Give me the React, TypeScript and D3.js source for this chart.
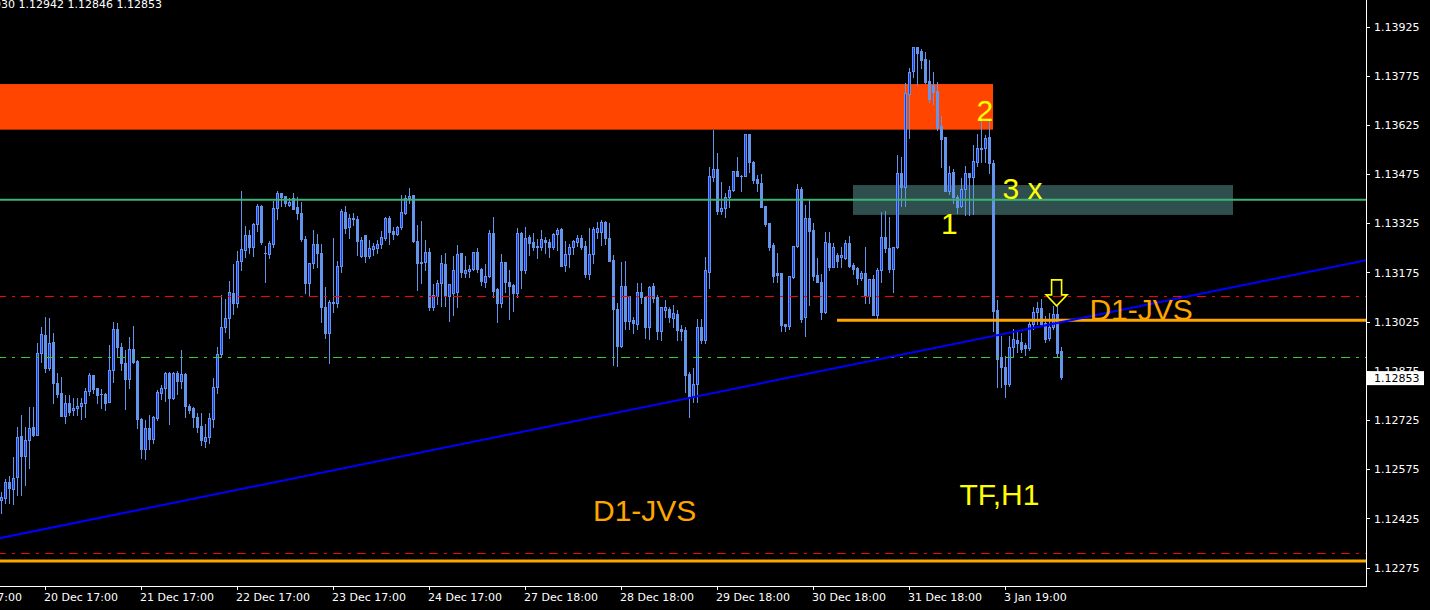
import React, { useEffect } from 'react';
import * as d3 from 'd3';

const W = 1430;
const H = 610;

const opens = [1.12477,1.12484,1.12533,1.12510,1.12546,1.12672,1.12612,1.12660,1.12698,1.12676,
1.12926,1.12981,1.12879,1.12958,1.12833,1.12802,1.12734,1.12772,1.12752,1.12756,
1.12763,1.12772,1.12809,1.12857,1.12817,1.12799,1.12799,1.12776,1.12873,1.12997,
1.12944,1.12895,1.12847,1.12936,1.12902,1.12723,1.12633,1.12697,1.12664,1.12726,
1.12804,1.12817,1.12863,1.12787,1.12865,1.12840,1.12861,1.12763,1.12756,1.12731,
1.12702,1.12658,1.12668,1.12723,1.12822,1.12921,1.13003,1.13033,1.13107,1.13078,
1.13206,1.13239,1.13284,1.13249,1.13317,1.13373,1.13231,1.13226,1.13256,1.13366,
1.13412,1.13404,1.13377,1.13397,1.13369,1.13351,1.13274,1.13137,1.13198,1.13256,
1.13229,1.13064,1.12985,1.13080,1.13078,1.13191,1.13356,1.13308,1.13336,1.13334,
1.13221,1.13285,1.13222,1.13243,1.13246,1.13257,1.13277,1.13336,1.13297,1.13288,
1.13308,1.13353,1.13397,1.13407,1.13267,1.13201,1.13203,1.13234,1.13064,1.13100,
1.13137,1.13196,1.13099,1.13109,1.13112,1.13229,1.13170,1.13176,1.13182,1.13232,
1.13182,1.13142,1.13160,1.13290,1.13120,1.13078,1.13201,1.13142,1.13132,1.13109,
1.13290,1.13178,1.13278,1.13264,1.13251,1.13247,1.13269,1.13264,1.13249,1.13287,
1.13303,1.13193,1.13226,1.13249,1.13264,1.13275,1.13251,1.13166,1.13226,1.13295,
1.13295,1.13323,1.13276,1.13208,1.13058,1.12946,1.13129,1.13023,1.13026,1.13013,
1.13112,1.13096,1.13005,1.13129,1.13097,1.12993,1.13056,1.13059,1.13033,1.13044,
1.12998,1.12995,1.12861,1.12790,1.12831,1.13003,1.12965,1.13173,1.13461,1.13485,
1.13359,1.13366,1.13400,1.13422,1.13480,1.13466,1.13465,1.13593,1.13508,1.13455,
1.13444,1.13373,1.13320,1.13254,1.13168,1.13168,1.13013,1.13007,1.13158,1.13251,
1.13424,1.13034,1.13336,1.13300,1.13163,1.13142,1.13051,1.13261,1.13188,1.13224,
1.13217,1.13214,1.13259,1.13193,1.13183,1.13153,1.13168,1.13100,1.13150,1.13041,
1.13178,1.13278,1.13244,1.13180,1.13247,1.13473,1.13432,1.13714,1.13786,1.13857,
1.13847,1.13821,1.13754,1.13742,1.13724,1.13617,1.13583,1.13420,1.13476,1.13402,
1.13373,1.13424,1.13473,1.13461,1.13508,1.13549,1.13549,1.13583,1.13503,1.13056,
1.12912,1.12881,1.12831,1.12942,1.12965,1.12959,1.12949,1.12941,1.13013,1.13049,
1.13061,1.13016,1.12970,1.13003,1.13044,1.12930];

const highs = [1.12501,1.12541,1.12551,1.12608,1.12700,1.12735,1.12700,1.12759,1.12761,1.12955,
1.13005,1.13034,1.13031,1.12985,1.12865,1.12852,1.12797,1.12797,1.12787,1.12787,
1.12787,1.12817,1.12865,1.12857,1.12817,1.12814,1.12802,1.12949,1.13020,1.13017,
1.12955,1.12934,1.12975,1.13007,1.12904,1.12726,1.12721,1.12736,1.12733,1.12812,
1.12827,1.12868,1.12868,1.12868,1.12871,1.12934,1.12863,1.12770,1.12761,1.12743,
1.12741,1.12708,1.12741,1.12848,1.12944,1.13102,1.13089,1.13145,1.13196,1.13236,
1.13419,1.13312,1.13300,1.13322,1.13379,1.13376,1.13251,1.13267,1.13389,1.13419,
1.13412,1.13404,1.13397,1.13414,1.13400,1.13386,1.13282,1.13200,1.13300,1.13288,
1.13257,1.13127,1.13087,1.13275,1.13206,1.13363,1.13373,1.13349,1.13351,1.13344,
1.13280,1.13285,1.13269,1.13259,1.13269,1.13297,1.13340,1.13343,1.13310,1.13312,
1.13407,1.13407,1.13427,1.13407,1.13315,1.13327,1.13269,1.13244,1.13135,1.13148,
1.13224,1.13229,1.13134,1.13221,1.13254,1.13229,1.13221,1.13193,1.13234,1.13244,
1.13185,1.13196,1.13300,1.13340,1.13122,1.13227,1.13201,1.13178,1.13135,1.13305,
1.13295,1.13308,1.13285,1.13290,1.13272,1.13300,1.13280,1.13272,1.13292,1.13307,
1.13305,1.13267,1.13256,1.13269,1.13285,1.13285,1.13267,1.13305,1.13308,1.13325,
1.13330,1.13328,1.13322,1.13224,1.13077,1.13203,1.13206,1.13099,1.13036,1.13137,
1.13139,1.13099,1.13129,1.13137,1.13102,1.13066,1.13087,1.13066,1.13071,1.13056,
1.13010,1.13005,1.12868,1.12878,1.13028,1.13028,1.13217,1.13493,1.13605,1.13534,
1.13447,1.13412,1.13434,1.13481,1.13522,1.13468,1.13593,1.13593,1.13511,1.13468,
1.13471,1.13373,1.13320,1.13259,1.13229,1.13170,1.13013,1.13160,1.13251,1.13440,
1.13432,1.13376,1.13392,1.13320,1.13214,1.13166,1.13293,1.13295,1.13259,1.13229,
1.13249,1.13269,1.13282,1.13198,1.13188,1.13176,1.13249,1.13150,1.13163,1.13183,
1.13356,1.13358,1.13339,1.13249,1.13529,1.13522,1.13747,1.13793,1.13857,1.13857,
1.13851,1.13844,1.13818,1.13783,1.13752,1.13648,1.13583,1.13495,1.13485,1.13407,
1.13458,1.13495,1.13473,1.13559,1.13593,1.13635,1.13590,1.13635,1.13513,1.13087,
1.12978,1.12916,1.12977,1.12997,1.12995,1.12987,1.12956,1.13020,1.13064,1.13081,
1.13089,1.13038,1.13048,1.13068,1.13068,1.12942];

const lows = [1.12437,1.12468,1.12469,1.12465,1.12492,1.12492,1.12523,1.12573,1.12672,1.12676,
1.12898,1.12868,1.12873,1.12774,1.12792,1.12734,1.12711,1.12736,1.12736,1.12736,
1.12723,1.12731,1.12797,1.12802,1.12774,1.12756,1.12751,1.12776,1.12837,1.12912,
1.12873,1.12753,1.12817,1.12894,1.12695,1.12604,1.12601,1.12631,1.12652,1.12721,
1.12784,1.12780,1.12708,1.12784,1.12800,1.12817,1.12729,1.12741,1.12700,1.12685,
1.12645,1.12639,1.12650,1.12700,1.12804,1.12916,1.12990,1.12972,1.13044,1.13064,
1.13178,1.13219,1.13231,1.13221,1.13297,1.13257,1.13142,1.13216,1.13249,1.13334,
1.13373,1.13373,1.13373,1.13365,1.13334,1.13267,1.13109,1.13099,1.13183,1.13188,
1.13020,1.12970,1.12894,1.13051,1.13066,1.13173,1.13290,1.13277,1.13315,1.13224,
1.13217,1.13203,1.13214,1.13224,1.13231,1.13244,1.13269,1.13257,1.13272,1.13285,
1.13302,1.13348,1.13381,1.13264,1.13117,1.13139,1.13178,1.13056,1.13056,1.13074,
1.13068,1.13068,1.13023,1.13041,1.13066,1.13158,1.13156,1.13158,1.13178,1.13173,
1.13132,1.13127,1.13158,1.13097,1.13020,1.13066,1.13112,1.13028,1.13054,1.13097,
1.13122,1.13170,1.13224,1.13239,1.13214,1.13239,1.13231,1.13217,1.13241,1.13239,
1.13190,1.13176,1.13188,1.13227,1.13251,1.13241,1.13158,1.13150,1.13200,1.13275,
1.13254,1.13257,1.13206,1.12888,1.12885,1.12944,1.12997,1.12997,1.12985,1.12998,
1.13077,1.12971,1.12967,1.13081,1.12967,1.12965,1.13036,1.13020,1.13005,1.12965,
1.12965,1.12807,1.12729,1.12776,1.12776,1.12956,1.12956,1.13122,1.13450,1.13349,
1.13349,1.13340,1.13369,1.13420,1.13465,1.13420,1.13465,1.13478,1.13442,1.13420,
1.13369,1.13312,1.13239,1.13142,1.13142,1.12993,1.12993,1.12997,1.13153,1.13249,
1.13020,1.12977,1.13071,1.13148,1.13142,1.13028,1.13048,1.13178,1.13186,1.13188,
1.13188,1.13211,1.13188,1.13166,1.13135,1.13148,1.13077,1.13077,1.13041,1.13031,
1.13142,1.13234,1.13173,1.13112,1.13244,1.13373,1.13373,1.13580,1.13767,1.13742,
1.13793,1.13747,1.13691,1.13684,1.13605,1.13493,1.13418,1.13410,1.13381,1.13353,
1.13371,1.13346,1.13346,1.13349,1.13495,1.13508,1.13508,1.13473,1.12992,1.12820,
1.12820,1.12790,1.12824,1.12912,1.12929,1.12929,1.12919,1.12934,1.12997,1.13013,
1.13007,1.12959,1.12965,1.12997,1.12912,1.12846];

const closes = [1.12486,1.12533,1.12512,1.12543,1.12668,1.12612,1.12660,1.12695,1.12675,1.12924,
1.12983,1.12879,1.12956,1.12833,1.12800,1.12734,1.12772,1.12746,1.12758,1.12764,
1.12772,1.12809,1.12857,1.12816,1.12798,1.12799,1.12774,1.12873,1.12997,1.12944,
1.12895,1.12847,1.12936,1.12898,1.12723,1.12633,1.12697,1.12662,1.12729,1.12805,
1.12817,1.12863,1.12787,1.12865,1.12840,1.12861,1.12764,1.12751,1.12731,1.12700,
1.12660,1.12668,1.12726,1.12820,1.12921,1.13003,1.13031,1.13110,1.13077,1.13206,
1.13241,1.13284,1.13249,1.13317,1.13373,1.13264,1.13229,1.13259,1.13366,1.13412,
1.13402,1.13381,1.13385,1.13365,1.13351,1.13274,1.13137,1.13200,1.13256,1.13231,
1.13064,1.12985,1.13080,1.13078,1.13191,1.13359,1.13305,1.13336,1.13335,1.13267,
1.13269,1.13221,1.13244,1.13251,1.13257,1.13278,1.13336,1.13295,1.13288,1.13308,
1.13354,1.13397,1.13404,1.13267,1.13200,1.13200,1.13234,1.13064,1.13102,1.13137,
1.13198,1.13099,1.13134,1.13178,1.13226,1.13173,1.13178,1.13182,1.13232,1.13182,
1.13145,1.13160,1.13290,1.13115,1.13078,1.13201,1.13142,1.13129,1.13109,1.13290,
1.13178,1.13275,1.13261,1.13249,1.13247,1.13273,1.13264,1.13249,1.13288,1.13300,
1.13191,1.13227,1.13247,1.13267,1.13275,1.13247,1.13166,1.13226,1.13302,1.13305,
1.13323,1.13276,1.13206,1.13058,1.12946,1.13129,1.13023,1.13099,1.13016,1.13112,
1.13096,1.13005,1.13125,1.13094,1.12993,1.13064,1.13064,1.13036,1.13048,1.12995,
1.12993,1.12858,1.12790,1.12831,1.13003,1.12965,1.13178,1.13465,1.13485,1.13359,
1.13366,1.13400,1.13422,1.13480,1.13466,1.13465,1.13593,1.13508,1.13452,1.13444,
1.13371,1.13318,1.13249,1.13160,1.13163,1.13010,1.13007,1.13160,1.13251,1.13424,
1.13028,1.13336,1.13298,1.13160,1.13142,1.13051,1.13264,1.13186,1.13247,1.13206,
1.13224,1.13261,1.13190,1.13180,1.13153,1.13168,1.13102,1.13150,1.13041,1.13178,
1.13278,1.13244,1.13180,1.13247,1.13475,1.13430,1.13717,1.13783,1.13857,1.13841,
1.13818,1.13752,1.13698,1.13722,1.13612,1.13577,1.13418,1.13475,1.13400,1.13371,
1.13424,1.13473,1.13461,1.13510,1.13549,1.13548,1.13580,1.13503,1.13054,1.12907,
1.12881,1.12831,1.12942,1.12967,1.12956,1.12938,1.12941,1.13013,1.13051,1.13061,
1.13013,1.12968,1.13003,1.13044,1.12926,1.12853];

const priceTicks = [1.13925, 1.13775, 1.13625, 1.13475, 1.13325, 1.13175, 1.13025, 1.12875, 1.12725, 1.12575, 1.12425, 1.12275];
const timeTickBars = [-13, 11, 35, 59, 83, 107, 131, 155, 179, 203, 227, 251];
const timeTickLabels = ['17 Dec 17:00', '20 Dec 17:00', '21 Dec 17:00', '22 Dec 17:00', '23 Dec 17:00', '24 Dec 17:00', '27 Dec 18:00', '28 Dec 18:00', '29 Dec 18:00', '30 Dec 18:00', '31 Dec 18:00', '3 Jan 19:00'];

const headerText = '1.12930 1.12942 1.12846 1.12853';
const bidPrice = 1.12853;

// Objects (bar index, price)
const resistZone = { bar0: -20, bar1: 248, top: 1.13745, bottom: 1.13606 };
const supportZone = { bar0: 213, bar1: 308, top: 1.13437, bottom: 1.13346 };
const greenLevel = 1.13392;
const redLevelUpper = 1.13099;
const greenDashLevel = 1.12913;
const redLevelLower = 1.12315;
const orangeLevelLower = 1.12291;
const orangeLevelShort = { bar0: 209, price: 1.13025 };
const trendAnchors = [{ bar: 10, price: 1.12386 }, { bar: 255, price: 1.12994 }];
const arrowAnchor = { bar: 263.9, price: 1.13148 };
const yellowLabels = [
  { text: '2', bar: 243.9, price: 1.13633 },
  { text: '3 x', bar: 250.4, price: 1.13394 },
  { text: '1', bar: 235, price: 1.13288 },
  { text: 'TF,H1', bar: 239.6, price: 1.12462 },
];
const orangeLabels = [
  { text: 'D1-JVS', bar: 272.1, price: 1.13026 },
  { text: 'D1-JVS', bar: 148, price: 1.12413 },
];

const PLOT_R = 1366;
const PLOT_B = 586;

export default function App() {
  useEffect(() => {
    document.body.style.margin = '0';
    document.body.style.background = '#000';
    document.body.style.overflow = 'hidden';
  }, []);

  const x = d3.scaleLinear().domain([0, 265]).range([1, 1061]);
  const y = d3.scaleLinear().domain([1.13925, 1.12275]).range([25, 566.2]);

  const up = '#6495ED';
  const bullInner = '#1c3cf0';

  const candles = opens.map((o, i) => {
    const c = closes[i];
    const hi = Math.max(highs[i], o, c);
    const lo = Math.min(lows[i], o, c);
    const cx = Math.round(x(i));
    const top = Math.round(y(Math.max(o, c)));
    const bot = Math.round(y(Math.min(o, c)));
    const h = Math.max(1, bot - top + 1);
    const wt = Math.round(y(hi));
    const wb = Math.round(y(lo)) + 1;
    const bull = c > o;
    return (
      <g key={i}>
        <rect x={cx} y={wt} width={1} height={wb - wt} fill={up} />
        <rect x={cx - 1} y={top} width={3} height={h} fill={up} />
        {bull && h > 2 ? <rect x={cx} y={top + 1} width={1} height={h - 2} fill={bullInner} /> : null}
      </g>
    );
  });

  const slope = (trendAnchors[1].price - trendAnchors[0].price) / (trendAnchors[1].bar - trendAnchors[0].bar);
  const tb0 = -5;
  const tb1 = 345;
  const tp0 = trendAnchors[0].price + slope * (tb0 - trendAnchors[0].bar);
  const tp1 = trendAnchors[0].price + slope * (tb1 - trendAnchors[0].bar);

  const dash = '9,6,3,6';
  const ax = arrowAnchor;
  const acx = x(ax.bar);
  const aty = y(ax.price);
  const arrowPts = [
    [acx - 5, aty], [acx + 5, aty], [acx + 5, aty + 15], [acx + 10.5, aty + 15],
    [acx, aty + 26], [acx - 10.5, aty + 15], [acx - 5, aty + 15],
  ].map(p => p.join(',')).join(' ');

  const axisFont = { fontFamily: '"DejaVu Sans", Verdana, sans-serif', fontSize: 11 };
  const labelFont = { fontFamily: '"Liberation Sans", Arial, sans-serif', fontSize: 30 };
  const bidY = y(bidPrice) + 1.5;

  return (
    <svg width={W} height={H} style={{ position: 'absolute', left: 0, top: 0, display: 'block' }}>
      <defs>
        <clipPath id="plot">
          <rect x={0} y={0} width={PLOT_R} height={PLOT_B} />
        </clipPath>
      </defs>
      <rect x={0} y={0} width={W} height={H} fill="#000" />
      <g clipPath="url(#plot)">
        <rect x={x(resistZone.bar0)} y={y(resistZone.top)} width={x(resistZone.bar1) - x(resistZone.bar0)}
          height={y(resistZone.bottom) - y(resistZone.top)} fill="#FF4500" />
        <rect x={x(supportZone.bar0)} y={y(supportZone.top)} width={x(supportZone.bar1) - x(supportZone.bar0)}
          height={y(supportZone.bottom) - y(supportZone.top)} fill="#2F4F4F" />
        {candles}
        <line x1={0} x2={PLOT_R} y1={y(greenLevel)} y2={y(greenLevel)} stroke="#3CB371" strokeWidth={2} />
        <line x1={0} x2={PLOT_R} y1={Math.round(y(redLevelUpper)) + 0.5} y2={Math.round(y(redLevelUpper)) + 0.5} stroke="#FF0000" strokeWidth={1} strokeDasharray={dash} strokeDashoffset={3} />
        <line x1={0} x2={PLOT_R} y1={Math.round(y(greenDashLevel)) + 0.5} y2={Math.round(y(greenDashLevel)) + 0.5} stroke="#32CD32" strokeWidth={1} strokeDasharray={dash} strokeDashoffset={3} />
        <line x1={0} x2={PLOT_R} y1={Math.round(y(redLevelLower)) + 0.5} y2={Math.round(y(redLevelLower)) + 0.5} stroke="#FF0000" strokeWidth={1} strokeDasharray={dash} strokeDashoffset={3} />
        <line x1={0} x2={PLOT_R} y1={y(orangeLevelLower)} y2={y(orangeLevelLower)} stroke="#FFA500" strokeWidth={3} />
        <line x1={x(orangeLevelShort.bar0)} x2={PLOT_R} y1={y(orangeLevelShort.price)} y2={y(orangeLevelShort.price)} stroke="#FFA500" strokeWidth={3} />
        <line x1={x(tb0)} x2={x(tb1)} y1={y(tp0)} y2={y(tp1)} stroke="#0000FF" strokeWidth={2} />
        <polygon points={arrowPts} fill="none" stroke="#FFFF00" strokeWidth={1.6} />
        {yellowLabels.map((l, i) => (
          <text key={'yl' + i} x={x(l.bar)} y={y(l.price)} fill="#FFFF00" style={labelFont}>{l.text}</text>
        ))}
        {orangeLabels.map((l, i) => (
          <text key={'ol' + i} x={x(l.bar)} y={y(l.price)} fill="#FFA500" style={labelFont}>{l.text}</text>
        ))}
      </g>
      <text x={-30.5} y={8} fill="#fff" style={axisFont}>{headerText}</text>
      {/* axes frame */}
      <line x1={PLOT_R + 0.5} x2={PLOT_R + 0.5} y1={0} y2={PLOT_B + 1} stroke="#fff" strokeWidth={1} />
      <line x1={0} x2={PLOT_R + 1} y1={PLOT_B + 0.5} y2={PLOT_B + 0.5} stroke="#fff" strokeWidth={1} />
      {priceTicks.map((v, i) => {
        const ty = y(v) + 1.5;
        return (
          <g key={'pt' + i}>
            <line x1={PLOT_R} x2={PLOT_R + 4} y1={Math.round(ty) + 0.5} y2={Math.round(ty) + 0.5} stroke="#fff" />
            <text x={1374} y={ty + 4} fill="#fff" style={axisFont}>{v.toFixed(5)}</text>
          </g>
        );
      })}
      <rect x={1367} y={bidY - 7} width={57} height={14} fill="#fff" />
      <text x={1374} y={bidY + 4} fill="#000" style={axisFont}>{bidPrice.toFixed(5)}</text>
      {timeTickBars.map((b, i) => {
        const tx = Math.round(x(b));
        return (
          <g key={'tt' + i}>
            <line x1={tx + 0.5} x2={tx + 0.5} y1={PLOT_B} y2={PLOT_B + 4} stroke="#fff" />
            <text x={tx - 1} y={601} fill="#fff" style={axisFont}>{timeTickLabels[i]}</text>
          </g>
        );
      })}
    </svg>
  );
}
